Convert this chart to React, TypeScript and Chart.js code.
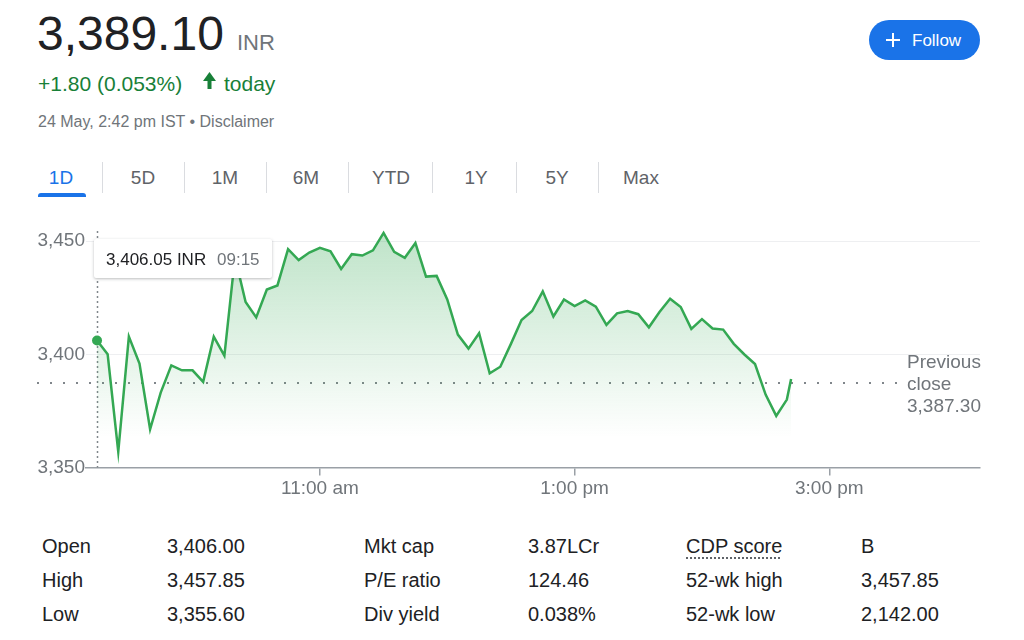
import React, { useEffect, useRef } from "react";
import { Chart, registerables } from "chart.js";

Chart.register(...registerables);

// ---------- data ----------
const times = [
  "09:15", "09:20", "09:25", "09:30", "09:35", "09:40", "09:45", "09:50", "09:55", "10:00",
  "10:05", "10:10", "10:15", "10:20", "10:25", "10:30", "10:35", "10:40", "10:45", "10:50",
  "10:55", "11:00", "11:05", "11:10", "11:15", "11:20", "11:25", "11:30", "11:35", "11:40",
  "11:45", "11:50", "11:55", "12:00", "12:05", "12:10", "12:15", "12:20", "12:25", "12:30",
  "12:35", "12:40", "12:45", "12:50", "12:55", "13:00", "13:05", "13:10", "13:15", "13:20",
  "13:25", "13:30", "13:35", "13:40", "13:45", "13:50", "13:55", "14:00", "14:05", "14:10",
  "14:15", "14:20", "14:25", "14:30", "14:35", "14:40", "14:42",
];
const prices = [
  3406.05, 3400.0, 3357.0, 3407.8, 3395.9, 3366.9, 3383.1, 3395.1, 3392.9, 3392.9,
  3387.8, 3407.8, 3399.4, 3442.9, 3423.1, 3416.3, 3428.6, 3430.4, 3446.4, 3441.6,
  3444.9, 3447.0, 3445.5, 3437.7, 3444.2, 3443.6, 3445.9, 3453.6, 3445.2, 3442.6,
  3449.1, 3434.3, 3434.6, 3424.2, 3408.7, 3402.5, 3409.3, 3391.6, 3394.5, 3404.6,
  3415.1, 3419.1, 3427.8, 3416.7, 3424.2, 3421.3, 3423.8, 3421.0, 3413.0, 3418.1,
  3419.1, 3417.7, 3411.9, 3418.7, 3424.5, 3420.9, 3411.2, 3415.5, 3411.4, 3410.9,
  3404.6, 3399.9, 3395.7, 3382.2, 3372.8, 3380.0, 3389.1,
];
const previousClose = 3387.3;
const yTicks = [3350, 3400, 3450];
const xTickTimes = ["11:00", "13:00", "15:00"];
const xTickLabels = ["11:00 am", "1:00 pm", "3:00 pm"];

const tabs = ["1D", "5D", "1M", "6M", "YTD", "1Y", "5Y", "Max"];
const statLabels1 = ["Open", "High", "Low"];
const statValues1 = ["3,406.00", "3,457.85", "3,355.60"];
const statLabels2 = ["Mkt cap", "P/E ratio", "Div yield"];
const statValues2 = ["3.87LCr", "124.46", "0.038%"];
const statLabels3 = ["CDP score", "52-wk high", "52-wk low"];
const statValues3 = ["B", "3,457.85", "2,142.00"];

// ---------- helpers ----------
const FONT = "Arial, 'Liberation Sans', sans-serif";
const GREEN_TEXT = "#188038";
const toMin = (t: string) => {
  const [h, m] = t.split(":").map(Number);
  return h * 60 + m - (9 * 60 + 15);
};

function T(props: {
  x: number;
  base: number;
  size: number;
  color: string;
  children: React.ReactNode;
  center?: boolean;
  style?: React.CSSProperties;
}) {
  const { x, base, size, color, children, center, style } = props;
  return (
    <div
      style={{
        position: "absolute",
        left: x,
        top: base - 0.8465 * size,
        fontSize: size,
        lineHeight: `${size}px`,
        color,
        fontFamily: FONT,
        whiteSpace: "nowrap",
        transform: center ? "translateX(-50%)" : undefined,
        ...style,
      }}
    >
      {children}
    </div>
  );
}

const refLines = {
  id: "refLines",
  beforeDatasetsDraw(chart: any) {
    const { ctx, scales, chartArea } = chart;
    const x = scales.x;
    const y = scales.y;
    ctx.save();
    const py = Math.round(y.getPixelForValue(previousClose));
    ctx.strokeStyle = "#80868b";
    ctx.lineWidth = 2;
    ctx.setLineDash([2, 11]);
    ctx.beginPath();
    ctx.moveTo(37, py);
    ctx.lineTo(897, py);
    ctx.stroke();
    const cx = Math.round(x.getPixelForValue(0)) + 0.5;
    ctx.lineWidth = 1.5;
    ctx.setLineDash([2, 3]);
    ctx.beginPath();
    ctx.moveTo(cx, 31);
    ctx.lineTo(cx, chartArea.bottom);
    ctx.stroke();
    ctx.restore();
  },
};

function PriceChart() {
  const ref = useRef<HTMLCanvasElement>(null);
  useEffect(() => {
    if (!ref.current) return;
    const data = times.map((t, i) => ({ x: toMin(t), y: prices[i] }));
    const chart = new Chart(ref.current, {
      type: "line",
      data: {
        datasets: [
          {
            data,
            borderColor: "#34a853",
            borderWidth: 2.5,
            tension: 0,
            fill: "start",
            backgroundColor: (c: any) => {
              const ch = c.chart;
              const area = ch.chartArea;
              if (!area) return "rgba(52,168,83,0.2)";
              const g = ch.ctx.createLinearGradient(0, area.top + 12, 0, area.bottom - 30);
              g.addColorStop(0, "rgba(52,168,83,0.32)");
              g.addColorStop(1, "rgba(52,168,83,0)");
              return g;
            },
            pointRadius: (c: any) => (c.dataIndex === 0 ? 5 : 0),
            pointBackgroundColor: "#34a853",
            pointBorderWidth: 0,
          },
        ],
      },
      options: {
        animation: false,
        responsive: false,
        maintainAspectRatio: false,
        layout: { padding: { top: 18.4, right: 44, left: 0, bottom: 0 } },
        plugins: { legend: { display: false }, tooltip: { enabled: false } },
        scales: {
          x: {
            type: "linear",
            min: -5.2,
            max: 416,
            afterBuildTicks: (s: any) => {
              s.ticks = xTickTimes.map((t) => ({ value: toMin(t) }));
            },
            afterFit: (s: any) => {
              s.height = 42.5;
            },
            ticks: {
              autoSkip: false,
              maxRotation: 0,
              padding: 2,
              color: "#70757a",
              font: { family: FONT, size: 19 },
              callback: (v: any) => {
                const idx = xTickTimes.findIndex((t) => toMin(t) === v);
                return idx >= 0 ? xTickLabels[idx] : "";
              },
            },
            grid: { drawOnChartArea: false, drawTicks: true, tickLength: 8, color: "#9aa0a6", lineWidth: 1.5 },
            border: { display: true, color: "#9aa0a6", width: 1.5 },
          },
          y: {
            min: 3350,
            max: 3460,
            afterBuildTicks: (s: any) => {
              s.ticks = yTicks.map((v) => ({ value: v }));
            },
            afterFit: (s: any) => {
              s.width = 86;
            },
            ticks: {
              padding: 1,
              color: "#70757a",
              font: { family: FONT, size: 19 },
              callback: (v: any) => Number(v).toLocaleString("en-US"),
            },
            grid: { color: "#eeeff1", drawTicks: false, lineWidth: 1 },
            border: { display: false },
          },
        },
      },
      plugins: [refLines],
    } as any);
    return () => chart.destroy();
  }, []);
  return (
    <canvas
      ref={ref}
      width={1024}
      height={310}
      style={{ position: "absolute", left: 0, top: 200, width: 1024, height: 310 }}
    />
  );
}

export default function App() {
  const tabCenters = [61, 143, 225, 306, 391, 476, 557, 641];
  const separators = [102, 184, 266, 348, 432, 516, 598];
  const rowBase = [553, 587, 621];
  return (
    <div
      style={{
        position: "absolute",
        left: 0,
        top: 0,
        width: 1024,
        height: 640,
        background: "#fff",
        overflow: "hidden",
        fontFamily: FONT,
      }}
    >
      {/* header */}
      <T x={37} base={51} size={48} color="#202124">3,389.10</T>
      <T x={237} base={51} size={22} color="#70757a">INR</T>
      <T x={38} base={91} size={21} color={GREEN_TEXT}>+1.80 (0.053%)</T>
      <svg width={16} height={20} style={{ position: "absolute", left: 202, top: 71 }}>
        <polygon points="1,10 7.5,1 14,10" fill={GREEN_TEXT} />
        <rect x={5.5} y={9} width={4} height={9} fill={GREEN_TEXT} />
      </svg>
      <T x={224} base={91} size={21} color={GREEN_TEXT}>today</T>
      <T x={38} base={128} size={16} color="#70757a">24 May, 2:42 pm IST • Disclaimer</T>

      {/* follow button */}
      <div
        style={{
          position: "absolute",
          left: 869,
          top: 20,
          width: 111,
          height: 40,
          borderRadius: 20,
          background: "#1a73e8",
        }}
      />
      <svg width={16} height={16} style={{ position: "absolute", left: 885, top: 32 }}>
        <line x1={8} y1={1} x2={8} y2={15} stroke="#fff" strokeWidth={2} />
        <line x1={1} y1={8} x2={15} y2={8} stroke="#fff" strokeWidth={2} />
      </svg>
      <T x={912} base={46} size={17} color="#ffffff">Follow</T>

      {/* tabs */}
      {tabs.map((t, i) => (
        <T key={t} x={tabCenters[i]} base={184} size={19} color={i === 0 ? "#1a73e8" : "#5f6368"} center>
          {t}
        </T>
      ))}
      {separators.map((x) => (
        <div
          key={x}
          style={{ position: "absolute", left: x, top: 162, width: 1, height: 31, background: "#dadce0" }}
        />
      ))}
      <div
        style={{
          position: "absolute",
          left: 38,
          top: 193,
          width: 48,
          height: 4,
          background: "#1a73e8",
          borderTopLeftRadius: 3,
          borderTopRightRadius: 3,
        }}
      />

      {/* chart */}
      <PriceChart />

      {/* tooltip */}
      <div
        style={{
          position: "absolute",
          left: 94,
          top: 239,
          width: 178,
          height: 39,
          background: "#fff",
          borderRadius: 2,
          boxShadow: "0 1px 3px rgba(60,64,67,0.35)",
        }}
      />
      <T x={106} base={265} size={17} color="#202124">3,406.05 INR</T>
      <T x={217} base={265} size={17} color="#70757a">09:15</T>

      {/* previous close label */}
      <T x={907} base={368} size={19} color="#70757a">Previous</T>
      <T x={907} base={390} size={19} color="#70757a">close</T>
      <T x={907} base={412} size={19} color="#70757a">3,387.30</T>

      {/* stats table */}
      {rowBase.map((b, i) => (
        <React.Fragment key={i}>
          <T x={42} base={b} size={20} color="#202124">{statLabels1[i]}</T>
          <T x={167} base={b} size={20} color="#202124">{statValues1[i]}</T>
          <T x={364} base={b} size={20} color="#202124">{statLabels2[i]}</T>
          <T x={528} base={b} size={20} color="#202124">{statValues2[i]}</T>
          <T
            x={686}
            base={b}
            size={20}
            color="#202124"
            style={i === 0 ? { textDecoration: "underline dotted #5f6368", textUnderlineOffset: 4 } : undefined}
          >
            {statLabels3[i]}
          </T>
          <T x={861} base={b} size={20} color="#202124">{statValues3[i]}</T>
        </React.Fragment>
      ))}
    </div>
  );
}
